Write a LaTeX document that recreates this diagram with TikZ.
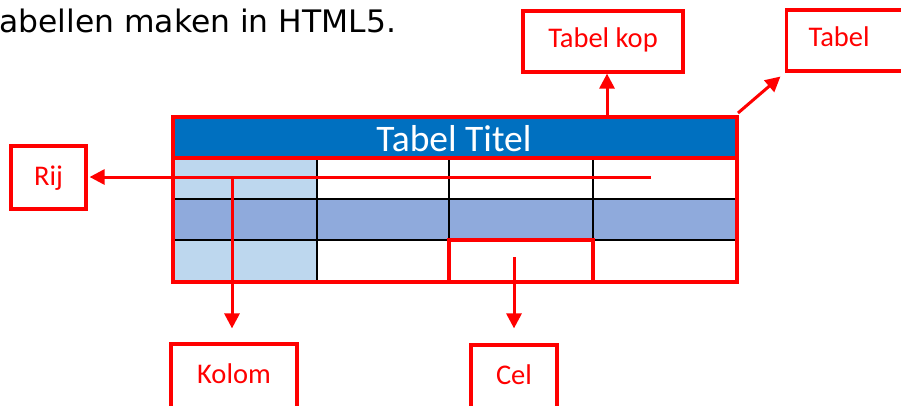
\documentclass[tikz,border=0pt]{standalone}
\usepackage{graphicx}
\usepackage{fontspec}
\setmainfont{Carlito}
\newfontfamily\verd{DejaVu Sans}
\usetikzlibrary{arrows.meta}
\definecolor{hdr}{HTML}{0070C0}
\definecolor{lb}{HTML}{BDD7EE}
\definecolor{mb}{HTML}{8FAADC}
\definecolor{rd}{HTML}{FF0000}
\begin{document}
\begin{tikzpicture}[x=1pt,y=-1pt,
  lbl/.style={draw=rd, line width=3.2pt, text=rd, font=\fontsize{28.5}{30}\selectfont,
    inner sep=0pt, text height=18pt, text depth=6pt},
  arr/.style={draw=rd, line width=3pt, -{Triangle[length=15pt,width=15pt]}},
  redline/.style={draw=rd, line width=3.4pt},
  blackline/.style={draw=black, line width=2.5pt}]
\clip (0,0) rectangle (901,405);
% heading text
\node[anchor=base west, inner sep=0pt] (title) at (-1,32)
  {\verd\fontsize{31}{34}\selectfont\scalebox{1.012}[1]{abellen maken in HTML5.}};
% table fills
\fill[lb] (173,158) rectangle (317,282);
\fill[mb] (173,199) rectangle (737,240);
\fill[hdr] (173,117) rectangle (737,158);
% black grid
\draw[blackline] (173,199) -- (737,199);
\draw[blackline] (173,240) -- (737,240);
\draw[blackline] (317,158) -- (317,282);
\draw[blackline] (449,158) -- (449,282);
\draw[blackline] (593,158) -- (593,282);
% header text
\node[anchor=base, inner sep=0pt, text=white, font=\fontsize{37.5}{40}\selectfont] (hdrtext) at (454,151) {Tabel Titel};
% red outlines
\draw[redline] (173,117) rectangle (737,282);
\draw[redline] (173,158) -- (737,158);
\draw[redline] (449,240) rectangle (593,282);
% label boxes
\node[lbl, minimum width=160pt, minimum height=61pt] (kop) at (603,41.5) {Tabel kop};
\node[lbl, anchor=west, minimum height=61pt, inner xsep=22pt, text width=100pt, align=left] (tabel) at (785,40.5) {Tabel};
\node[lbl, minimum width=75pt, minimum height=63pt, text depth=3pt] (rij) at (48.5,177.5) {Rij};
\node[lbl, minimum width=126pt, minimum height=66pt] (kolom) at (234,377) {Kolom};
\node[lbl, minimum width=86pt, minimum height=66pt] (cel) at (514,378) {Cel};
% connector start points
\coordinate (kopstart) at (607,115);
\coordinate (tabstart) at (738,113);
\coordinate (rijstart) at (651,177);
\coordinate (kolstart) at (232,177);
\coordinate (celstart) at (514,257);
% connectors
\draw[arr] (kopstart) -- (kop.south -| kopstart);
\draw[arr, shorten >=6pt] (tabstart) -- (tabel.south west);
\draw[arr, shorten >=2pt] (rijstart) -- (rij.east |- rijstart);
\draw[arr, shorten >=14pt] (kolstart) -- (kolom.north -| kolstart);
\draw[arr, shorten >=15pt] (celstart) -- (cel.north);
\end{tikzpicture}
\end{document}
